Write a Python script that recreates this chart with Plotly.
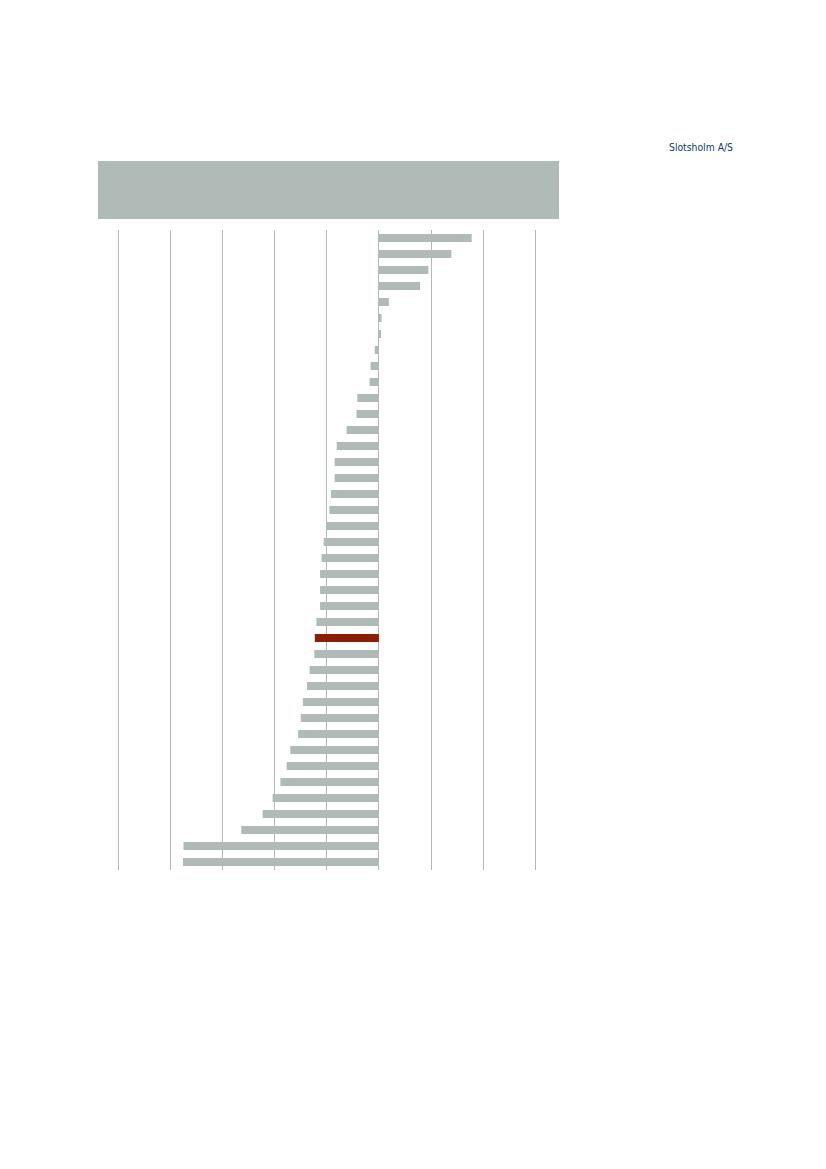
import plotly.graph_objects as go

# Rank positions (top to bottom); no category labels are shown in the reference
ranks = list(range(1, 41))
values = [1.78, 1.39, 0.95, 0.79, 0.19, 0.05, 0.04, -0.08, -0.16, -0.18,
          -0.415, -0.43, -0.62, -0.81, -0.85, -0.85, -0.92, -0.95, -1.00, -1.06,
          -1.10, -1.13, -1.13, -1.13, -1.20, -1.23, -1.24, -1.33, -1.38, -1.46,
          -1.50, -1.55, -1.70, -1.77, -1.89, -2.04, -2.23, -2.64, -3.75, -3.76]
highlight_rank = 26
source_text = "Slotsholm A/S"

GREY = "#b0bbb8"
RED = "#8b1e06"
colors = [RED if r == highlight_rank else GREY for r in ranks]

fig = go.Figure(go.Bar(
    x=values, y=ranks, orientation="h",
    marker=dict(color=colors, line=dict(width=0)),
    width=0.5, hoverinfo="skip",
))

W, H = 826, 1169
OFF = 8  # page body margin
left, right_px, top, bottom_px = 98 - OFF, 559 - OFF, 230 - OFF, 870 - OFF

fig.update_layout(
    width=W, height=H,
    margin=dict(l=left, r=W - right_px, t=top, b=H - bottom_px, pad=0),
    paper_bgcolor="white", plot_bgcolor="white",
    showlegend=False,
    xaxis=dict(range=[-5.39, 3.455], tick0=-5, dtick=1, showgrid=True,
               gridcolor=GREY, gridwidth=1, zeroline=True, zerolinecolor=GREY,
               zerolinewidth=1, showticklabels=False, ticks="", showline=False,
               fixedrange=True),
    yaxis=dict(range=[40.5, 0.5], showgrid=False, zeroline=False,
               showticklabels=False, ticks="", showline=False, fixedrange=True),
    shapes=[dict(type="rect", xref="paper", yref="paper",
                 x0=0, x1=1,
                 y0=(bottom_px - (219 - OFF)) / (bottom_px - top),
                 y1=(bottom_px - (161 - OFF)) / (bottom_px - top),
                 fillcolor=GREY, line=dict(width=0), layer="below")],
    annotations=[dict(text=source_text, xref="paper", yref="paper",
                      x=((735 - OFF) - left) / (right_px - left),
                      y=(bottom_px - (147 - OFF)) / (bottom_px - top),
                      xanchor="right", yanchor="middle", showarrow=False,
                      font=dict(family="Liberation Sans Narrow, DejaVu Sans Condensed, sans-serif",
                                size=10.3, color="#0d3a6e"))],
)

fig.write_html("out.html")
